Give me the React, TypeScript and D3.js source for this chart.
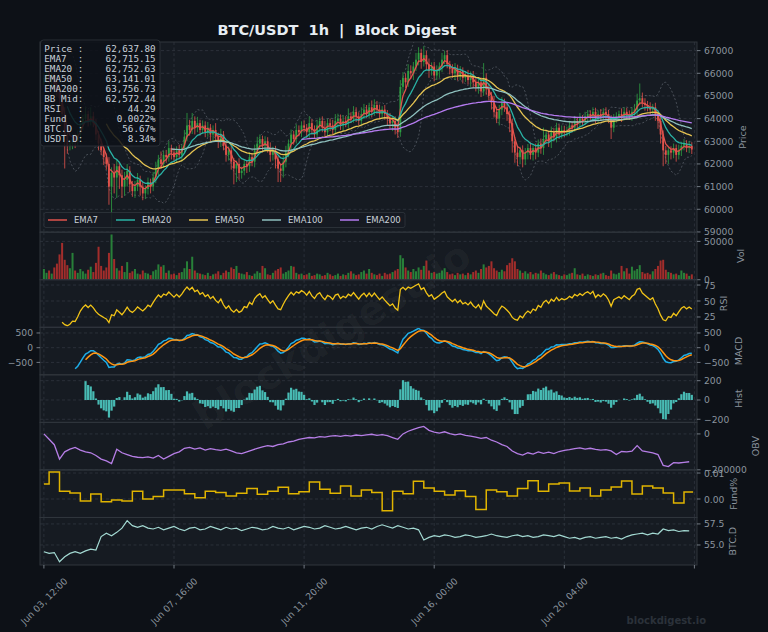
import React, { useEffect } from 'react';
import * as d3 from 'd3';

const START = new Date(2024, 5, 3, 12, 0, 0);
const HOUR = 3600 * 1000;
const STEP_H = 2; // hours per candle

const firstOpen = 65600;
const closes = [
  65800, 66000, 65700, 65900, 65500, 65200, 64900,
  64200, 63300, 62800, 62900, 63100, 63000, 63300,
  63700, 64000, 64200, 63900, 64100,
  63800, 63300, 62900, 62600, 62300, 62000,
  61000, 61600, 61400, 61900, 61500, 61000, 61300, 61700,
  61100, 60800, 61000, 61300, 61000, 60700, 60900, 61200, 61000,
  61400, 61800, 62200, 62000, 62400, 62300, 62700,
  62500, 62300, 62600, 62400, 62700,
  63200, 63700, 63500, 63900, 63600, 63800, 63500,
  63700, 63400, 63600, 63300, 63500, 63200,
  63000, 63300, 62800, 62400, 62600, 62100, 61800, 62000, 61600,
  61700, 62000, 61900, 62300, 62100,
  62600, 62900, 63100, 62800, 63000, 62700, 62400, 62600,
  62200, 61800, 61700, 62100,
  62500, 62900, 63300, 63100, 63500, 63400, 63700, 63600,
  63400, 63800, 63500, 63300, 63700, 63900, 63600, 63400, 63800, 63700, 63500, 63900, 64000, 63700, 63900,
  63800, 64100, 64000, 64300, 64100, 63900, 64200, 64400, 64200,
  64500, 64300, 64600, 64400, 64200, 64400,
  64200, 64000, 63800, 63900, 63600, 63400,
  65400, 65800, 65600, 66100, 66000,
  66300, 66600, 66900, 66500, 66800,
  66400, 66100, 66300, 65900, 66100,
  66300, 66600, 66800, 66400, 66200,
  66000, 66200, 65900, 66100, 65800, 65900, 65700, 65900, 65600,
  65400, 65600, 65200, 65800, 65300, 65000, 64700,
  64300, 64000, 64400, 64700, 64500,
  64200, 63800, 63000, 62500,
  62300, 62600, 62200, 62500, 62700,
  62400, 62700, 62500, 62900, 62700, 63100,
  63300, 63000, 63400, 63200, 63600, 63300, 63500, 63400,
  63500, 63700, 63600, 63900, 63800, 64000, 63900, 64100,
  64200, 64100, 64300, 64000, 64200, 64100, 64300, 64200,
  64000, 63600, 64000, 64100,
  64200, 64100, 64300, 64200, 64100, 64300,
  64400, 64800, 64900,
  64700, 64600, 64500, 64400, 64500,
  64200, 63900, 63300, 62600,
  62400, 62600, 62500, 62700, 62400, 62600,
  62800, 62900, 62700, 62800, 62637.8,
];

const wickUp = [
  200, 150, 250, 180, 120, 160, 220, 150, 300, 180,
  150, 200, 250, 180, 220, 160, 300, 150, 400, 200,
  180, 150, 220, 120, 160, 300, 250, 400, 300, 200,
  250, 350, 300, 200, 150, 250, 300, 180, 220, 160,
  200, 150, 250, 300, 200, 350, 180, 220, 300, 150,
  200, 180, 250, 160, 300, 550, 250, 350, 200, 280,
  150, 220, 180, 250, 160, 200, 300, 180, 250, 150,
  200, 180, 220, 160, 150, 250, 180, 200, 150, 220,
  180, 250, 300, 200, 150, 220, 180, 250, 160, 200,
  150, 200, 250, 300, 180, 220, 160, 250, 200, 180,
  220, 160, 300, 180, 200, 250, 150, 200, 300, 180,
  200, 250, 300, 220, 180, 250, 200, 350, 180, 250,
  200, 180, 300, 250, 200, 200, 300, 250, 180, 220,
  150, 200, 180, 250, 160, 200, 180, 300, 250, 200,
  300, 250, 200, 300, 250, 180, 400, 200, 250, 180,
  200, 250, 180, 300, 200, 220, 150, 200, 250, 180,
  220, 160, 200, 250, 180, 200, 250, 180, 220, 650,
  200, 250, 180, 300, 220, 200, 250, 180, 200, 150,
  200, 180, 250, 160, 220, 200, 180, 250, 150, 200,
  180, 220, 500, 200, 160, 250, 180, 220, 150, 200,
  180, 150, 200, 160, 220, 180, 250, 150, 200, 180,
  160, 200, 180, 150, 220, 160, 200, 180, 150, 200,
  180, 150, 250, 200, 180, 160, 200, 250, 300, 650,
  250, 200, 180, 220, 150, 200, 160, 250, 180, 200,
  150, 180, 200, 160, 250, 180, 200, 150, 220, 160,
];

const wickDn = [
  150, 200, 180, 250, 200, 220, 300, 250, 1500, 350,
  200, 250, 300, 180, 200, 220, 160, 250, 200, 180,
  250, 300, 200, 350, 250, 800, 1800, 700, 900, 600,
  500, 400, 300, 350, 250, 300, 200, 400, 300, 250,
  250, 300, 200, 250, 300, 200, 180, 250, 200, 300,
  200, 250, 180, 300, 220, 200, 250, 180, 300, 200,
  250, 180, 220, 200, 300, 250, 200, 300, 250, 200,
  300, 250, 350, 700, 600, 300, 250, 200, 300, 250,
  200, 250, 180, 220, 300, 250, 200, 300, 250, 400,
  600, 500, 300, 250, 200, 300, 250, 200, 180, 220,
  200, 250, 300, 200, 180, 250, 300, 200, 220, 180,
  250, 200, 180, 300, 200, 250, 180, 220, 200, 180,
  250, 200, 180, 220, 160, 200, 250, 180, 200, 220,
  200, 250, 300, 250, 350, 300, 250, 200, 300, 250,
  200, 250, 300, 200, 250, 300, 200, 250, 300, 200,
  250, 200, 300, 250, 200, 180, 250, 200, 300, 220,
  200, 250, 180, 200, 300, 250, 200, 300, 250, 200,
  250, 200, 300, 250, 200, 300, 250, 200, 300, 400,
  500, 450, 400, 300, 350, 250, 300, 200, 250, 300,
  200, 250, 300, 200, 250, 300, 200, 250, 200, 180,
  220, 180, 250, 200, 180, 220, 160, 200, 180, 250,
  200, 180, 220, 160, 200, 180, 250, 200, 500, 200,
  180, 200, 250, 180, 220, 160, 200, 180, 250, 200,
  200, 250, 180, 220, 200, 300, 350, 400, 700, 400,
  400, 300, 250, 300, 200, 250, 200, 180, 220, 200,
];

const volumes = [
  14000, 9000, 12000, 8000, 16000, 21000, 33000, 48000, 26000, 19000,
  15000, 35000, 12000, 9000, 14000, 11000, 8000, 13000, 17000, 10000,
  22000, 43000, 18000, 12000, 16000, 35000, 59000, 27000, 15000, 12000,
  18000, 10000, 23000, 9000, 11000, 14000, 8000, 7000, 12000, 9000,
  8000, 6000, 11000, 13000, 20000, 17000, 19000, 9000, 12000, 7000,
  8000, 6000, 9000, 10000, 15000, 24000, 14000, 30000, 12000, 9000,
  8000, 7000, 6000, 9000, 5000, 7000, 8000, 11000, 6000, 9000,
  12000, 10000, 16000, 14000, 18000, 9000, 8000, 7000, 10000, 6000,
  5000, 8000, 11000, 9000, 18000, 15000, 7000, 6000, 9000, 12000,
  14000, 16000, 8000, 10000, 12000, 18000, 17000, 9000, 7000, 8000,
  6000, 7000, 9000, 5000, 6000, 8000, 7000, 5000, 6000, 9000,
  7000, 5000, 6000, 8000, 5000, 7000, 6000, 9000, 11000, 8000,
  6000, 7000, 10000, 12000, 8000, 14000, 9000, 7000, 6000, 8000,
  5000, 9000, 7000, 8000, 10000, 12000, 14000, 32000, 28000, 16000,
  12000, 10000, 14000, 11000, 16000, 13000, 18000, 25000, 12000, 9000,
  10000, 8000, 9000, 12000, 15000, 10000, 7000, 8000, 6000, 9000,
  7000, 8000, 6000, 9000, 7000, 10000, 12000, 9000, 14000, 20000,
  16000, 18000, 24000, 15000, 12000, 10000, 13000, 11000, 19000, 22000,
  28000, 24000, 14000, 12000, 9000, 11000, 8000, 10000, 7000, 9000,
  8000, 12000, 9000, 7000, 6000, 8000, 10000, 7000, 6000, 5000,
  7000, 6000, 8000, 9000, 15000, 7000, 6000, 8000, 5000, 7000,
  6000, 5000, 7000, 6000, 8000, 9000, 6000, 5000, 12000, 8000,
  7000, 9000, 18000, 11000, 15000, 8000, 17000, 12000, 14000, 19000,
  10000, 8000, 9000, 7000, 11000, 14000, 18000, 25000, 26000, 13000,
  10000, 9000, 7000, 8000, 6000, 12000, 9000, 8000, 5000, 7000,
];

// OBV sampled every 4 hours
const obv4h = [
  0, -30000, -60000, -140000, -100000, -85000, -75000, -90000, -100000, -105000,
  -120000, -140000, -150000, -165000, -85000, -105000, -115000, -125000, -130000, -132000,
  -128000, -135000, -120000, -140000, -125000, -110000, -100000, -80000, -75000, -85000,
  -78000, -90000, -82000, -88000, -92000, -85000, -95000, -105000, -110000, -100000,
  -90000, -80000, -72000, -65000, -70000, -60000, -55000, -45000, -40000, -30000,
  -25000, -20000, -22000, -15000, -18000, -12000, -10000, -14000, -8000, -12000,
  -6000, -10000, -5000, -2000, -8000, -4000, -10000, -20000, -30000, 0,
  15000, 25000, 35000, 42000, 20000, 10000, 5000, 12000, 2000, -5000,
  0, -8000, -12000, -18000, -25000, -20000, -35000, -45000, -60000, -70000,
  -95000, -110000, -118000, -105000, -112000, -100000, -108000, -102000, -110000, -98000,
  -92000, -88000, -82000, -78000, -85000, -80000, -86000, -90000, -88000, -95000,
  -115000, -98000, -100000, -96000, -65000, -95000, -100000, -105000, -115000, -175000,
  -182000, -160000, -162000, -158000, -155000,
];

// BTC dominance sampled every 4 hours
const btcDom4h = [
  54.2, 54.0, 54.1, 53.0, 53.6, 54.0, 54.2, 54.0, 54.3, 54.5,
  54.4, 56.0, 56.4, 56.1, 56.5, 57.0, 57.9, 57.3, 57.1, 57.3,
  57.0, 56.9, 57.1, 56.8, 57.0, 57.2, 56.9, 56.7, 57.0, 57.1,
  56.8, 56.9, 57.2, 57.0, 56.8, 57.1, 56.9, 57.0, 56.7, 56.9,
  57.1, 57.0, 56.8, 56.9, 57.2, 57.0, 56.9, 57.1, 56.8, 57.0,
  57.2, 57.1, 56.9, 57.0, 57.3, 57.1, 56.9, 57.0, 57.2, 57.0,
  56.8, 57.0, 57.1, 56.9, 57.2, 57.4, 57.2, 57.0, 57.3, 57.1,
  56.9, 57.0, 56.8, 55.6, 55.9, 56.1, 56.0, 56.2, 56.1, 55.9,
  56.0, 56.2, 56.1, 55.9, 56.0, 56.1, 56.3, 56.1, 56.0, 55.9,
  56.1, 56.2, 56.0, 56.1, 55.9, 56.0, 56.2, 56.1, 56.0, 56.2,
  56.0, 55.8, 55.9, 55.7, 55.9, 56.0, 55.8, 55.9, 56.0, 55.8,
  55.9, 55.7, 56.0, 56.2, 56.3, 56.4, 56.2, 56.4, 56.3, 56.9,
  56.7, 56.8, 56.6, 56.7, 56.67,
];

// funding rate (%), settles every 8 hours
const funding8h = [
  0.0058, 0.0104, 0.0030, 0.0023, -0.0008, 0.0019, -0.0011, -0.0004, -0.0008, 0.0030,
  0.0000, 0.0010, 0.0035, 0.0035, 0.0020, 0.0005, 0.0030, 0.0025, 0.0012, 0.0022,
  0.0040, 0.0018, 0.0030, 0.0045, 0.0020, 0.0028, 0.0065, 0.0038, 0.0022, 0.0050,
  0.0012, 0.0035, 0.0025, -0.0045, 0.0030, 0.0020, 0.0068, 0.0042, 0.0030, 0.0015,
  0.0032, 0.0010, -0.0040, 0.0035, 0.0028, 0.0012, 0.0040, 0.0070, 0.0030, 0.0058,
  0.0062, 0.0031, 0.0042, 0.0012, 0.0035, 0.0046, 0.0069, 0.0019, 0.0050, 0.0042,
  0.0023, -0.0015, 0.0027,
];

const xTickHours = [0, 100, 200, 300, 400, 500];
const xTickLabels = ['Jun 03, 12:00', 'Jun 07, 16:00', 'Jun 11, 20:00', 'Jun 16, 00:00', 'Jun 20, 04:00', ''];

const emaPeriods = [7, 20, 50, 100, 200];
const emaNames = ['EMA7', 'EMA20', 'EMA50', 'EMA100', 'EMA200'];
const emaColors = ['#e0534d', '#2ab3a6', '#e6c452', '#8fc1bf', '#b57bf0'];

const infoLabels = ['Price :', 'EMA7  :', 'EMA20 :', 'EMA50 :', 'EMA200:', 'BB Mid:', 'RSI   :', 'Fund  :', 'BTC.D :', 'USDT.D:'];
const infoValues = ['62,637.80', '62,715.15', '62,752.63', '63,141.01', '63,756.73', '62,572.44', '44.29', '0.0022%', '56.67%', '8.34%'];

// ---- indicator helpers (periods given in hours, data is 2h candles) ----
type Num = number | null;

function ema(vals: number[], n: number, first = 0): Num[] {
  const alpha = 1 - Math.pow(1 - 2 / (n + 1), STEP_H);
  const minP = first + Math.floor((n - 1) / STEP_H);
  const out: Num[] = vals.map(() => null);
  let e = 0;
  for (let i = first; i < vals.length; i++) {
    e = i === first ? vals[i] : alpha * vals[i] + (1 - alpha) * e;
    if (i >= minP) out[i] = e;
  }
  return out;
}

// Wilder RSI: seeded over `seed` candles, smoothed over `n`
function rsi(vals: number[], seed: number, n: number): Num[] {
  const out: Num[] = vals.map(() => null);
  let ag = 0, al = 0;
  for (let i = 1; i < vals.length; i++) {
    const ch = vals[i] - vals[i - 1];
    const g = Math.max(ch, 0), l = Math.max(-ch, 0);
    if (i <= seed) {
      ag += g / seed;
      al += l / seed;
    } else {
      ag = (ag * (n - 1) + g) / n;
      al = (al * (n - 1) + l) / n;
    }
    if (i >= seed) out[i] = al === 0 ? 100 : 100 - 100 / (1 + ag / al);
  }
  return out;
}

function bollinger(vals: number[], n: number, k: number) {
  const up: Num[] = vals.map(() => null);
  const lo: Num[] = vals.map(() => null);
  for (let i = n - 1; i < vals.length; i++) {
    const w = vals.slice(i - n + 1, i + 1);
    const m = d3.mean(w) as number;
    const s = d3.deviation(w) as number;
    up[i] = m + k * s;
    lo[i] = m - k * s;
  }
  return { up, lo };
}

const App: React.FC = () => {
  useEffect(() => {
    document.body.style.margin = '0';
    document.body.style.background = '#0d1117';
  }, []);

  const W = 768, H = 632;
  const left = 40, right = 697;
  const top = 42, bottom = 565;
  const weights = [4, 1, 1, 1, 1, 1, 1, 1];
  const unit = (bottom - top) / d3.sum(weights);
  const bounds: [number, number][] = [];
  let acc = top;
  weights.forEach((w) => {
    bounds.push([acc, acc + w * unit]);
    acc += w * unit;
  });

  const x = d3.scaleTime()
    .domain([new Date(START.getTime() - 3 * HOUR), new Date(START.getTime() + 502 * HOUR)])
    .range([left, right]);
  const xh = (h: number) => x(new Date(START.getTime() + h * HOUR));
  const xi = (i: number) => xh(i * STEP_H);

  const opens = closes.map((c, i) => (i === 0 ? firstOpen : closes[i - 1]));
  const highs = closes.map((c, i) => Math.max(c, opens[i]) + wickUp[i]);
  const lows = closes.map((c, i) => Math.min(c, opens[i]) - wickDn[i]);

  const emas = emaPeriods.map((p) => ema(closes, p));
  const bb = bollinger(closes, 20 / STEP_H, 2);
  const rsiVals = rsi(closes, 14 / STEP_H, 10);
  const e12 = ema(closes, 12);
  const e26 = ema(closes, 26);
  const macdStart = Math.floor(25 / STEP_H);
  const macd: Num[] = closes.map((_, i) => (i >= macdStart ? (e12[i] as number) - (e26[i] as number) : null));
  const signal = ema(macd.map((v) => v ?? 0), 9, macdStart);
  const hist: Num[] = macd.map((v, i) => (v != null && signal[i] != null ? v - (signal[i] as number) : null));

  const fmtInt = (v: number) => d3.format('d')(v).replace('-', '\u2212');
  const panels = [
    { key: 'price', dom: [58990, 67380], ticks: d3.range(59000, 67001, 1000), fmt: fmtInt, label: 'Price', lx: 742 },
    { key: 'vol', dom: [0, 62000], ticks: [0, 50000], fmt: fmtInt, label: 'Vol', lx: 740 },
    { key: 'rsi', dom: [8.9, 83.3], ticks: [25, 50, 75], fmt: fmtInt, label: 'RSI', lx: 723 },
    { key: 'macd', dom: [-922, 694], ticks: [-500, 0, 500], fmt: fmtInt, label: 'MACD', lx: 738 },
    { key: 'hist', dom: [-232, 261], ticks: [-200, 0, 200], fmt: fmtInt, label: 'Hist', lx: 738 },
    { key: 'obv', dom: [-200500, 64400], ticks: [-200000, 0], fmt: fmtInt, label: 'OBV', lx: 755 },
    { key: 'fund', dom: [-0.0071, 0.0112], ticks: [0, 0.01], fmt: d3.format('.2f'), label: 'Fund%', lx: 733 },
    { key: 'btcd', dom: [52.62, 58.27], ticks: [55, 57.5], fmt: d3.format('.1f'), label: 'BTC.D', lx: 732 },
  ].map((p, k) => ({
    ...p,
    y0: bounds[k][0],
    y1: bounds[k][1],
    y: d3.scaleLinear().domain(p.dom).range([bounds[k][1], bounds[k][0]]),
  }));
  const P: Record<string, (typeof panels)[number]> = {};
  panels.forEach((p) => (P[p.key] = p));

  const lineI = (yS: d3.ScaleLinear<number, number>) =>
    d3.line<Num>()
      .defined((d) => d != null)
      .x((_, i) => xi(i))
      .y((d) => yS(d as number));

  const yP = P.price.y;
  const gridColor = '#333a44';
  const tickColor = '#8b949e';
  const up = '#2ea043';
  const down = '#e5534b';

  // funding step points
  const fundPts: [number, number][] = funding8h.map((v, k) => [k === 0 ? 0 : 4 + 8 * (k - 1), v]);
  fundPts.push([499, funding8h[funding8h.length - 1]]);
  const fundLine = d3.line<[number, number]>()
    .x((d) => xh(d[0]))
    .y((d) => P.fund.y(d[1]))
    .curve(d3.curveStepAfter);

  const obvLine = d3.line<number>().x((_, j) => xh(j * 4)).y((d) => P.obv.y(d));
  const btcLine = d3.line<number>().x((_, j) => xh(j * 4)).y((d) => P.btcd.y(d));

  const legendX = [48, 116, 189, 262, 340];
  const monoW = 5.57;

  return (
    <svg width={W} height={H} style={{ position: 'absolute', left: 0, top: 0, display: 'block' }} fontFamily="'DejaVu Sans', sans-serif">
      <rect width={W} height={H} fill="#0d1117" />
      <defs>
        {panels.map((p) => (
          <clipPath id={`clip-${p.key}`} key={p.key}>
            <rect x={left} y={p.y0} width={right - left} height={p.y1 - p.y0} />
          </clipPath>
        ))}
      </defs>

      {/* panel backgrounds + grids */}
      {panels.map((p) => (
        <g key={`bg-${p.key}`}>
          <rect x={left} y={p.y0} width={right - left} height={p.y1 - p.y0} fill="#161b22" />
          {p.ticks.map((t) => (
            <line key={t} x1={left} x2={right} y1={p.y(t)} y2={p.y(t)} stroke={gridColor} strokeWidth={0.7} strokeDasharray="3,2.5" />
          ))}
          {xTickHours.map((h) => (
            <line key={h} x1={xh(h)} x2={xh(h)} y1={p.y0} y2={p.y1} stroke={gridColor} strokeWidth={0.7} strokeDasharray="3,2.5" />
          ))}
        </g>
      ))}

      {/* watermark */}
      <text transform="translate(332,335) rotate(-32)" textAnchor="middle" dominantBaseline="central" fontSize={40}
        fontWeight="bold" fill="#ffffff" fillOpacity={0.04}>
        blockdigest.io
      </text>

      {/* price panel */}
      <g clipPath="url(#clip-price)">
        {[bb.up, bb.lo].map((s, k) => (
          <path key={k} d={lineI(yP)(s) || ''} fill="none" stroke="#8b949e" strokeOpacity={0.55} strokeWidth={0.8} strokeDasharray="2,2" />
        ))}
        {closes.map((c, i) => {
          const o = opens[i];
          const col = c >= o ? up : down;
          const cx = xi(i);
          const yt = yP(Math.max(o, c));
          const yb = yP(Math.min(o, c));
          return (
            <g key={i}>
              <line x1={cx} x2={cx} y1={yP(highs[i])} y2={yP(lows[i])} stroke={col} strokeWidth={0.8} />
              <rect x={cx - 0.9} y={yt} width={1.8} height={Math.max(yb - yt, 0.6)} fill={col} />
            </g>
          );
        })}
        {emas.map((s, k) => (
          <path key={k} d={lineI(yP)(s) || ''} fill="none" stroke={emaColors[k]} strokeWidth={1.3} />
        ))}
      </g>

      {/* volume */}
      <g clipPath="url(#clip-vol)">
        {volumes.map((v, i) => (
          <rect key={i} x={xi(i) - 1} width={2} y={P.vol.y(v)} height={P.vol.y(0) - P.vol.y(v)}
            fill={closes[i] >= opens[i] ? '#2a8c3c' : '#b3302c'} fillOpacity={0.9} />
        ))}
      </g>

      {/* RSI */}
      <g clipPath="url(#clip-rsi)">
        <path d={lineI(P.rsi.y)(rsiVals) || ''} fill="none" stroke="#f2c417" strokeWidth={1.3} />
      </g>

      {/* MACD */}
      <g clipPath="url(#clip-macd)">
        <path d={lineI(P.macd.y)(macd) || ''} fill="none" stroke="#1eaee8" strokeWidth={1.5} />
        <path d={lineI(P.macd.y)(signal) || ''} fill="none" stroke="#ff9410" strokeWidth={1.5} />
      </g>

      {/* Histogram */}
      <g clipPath="url(#clip-hist)">
        {hist.map((v, i) =>
          v == null ? null : (
            <rect key={i} x={xi(i) - 1.1} width={2.2} y={Math.min(P.hist.y(v), P.hist.y(0))}
              height={Math.abs(P.hist.y(v) - P.hist.y(0))} fill="#4ecdc4" fillOpacity={0.9} />
          )
        )}
      </g>

      {/* OBV */}
      <g clipPath="url(#clip-obv)">
        <path d={obvLine(obv4h) || ''} fill="none" stroke="#b67ee6" strokeWidth={1.3} />
      </g>

      {/* Funding */}
      <g clipPath="url(#clip-fund)">
        <path d={fundLine(fundPts) || ''} fill="none" stroke="#e0b400" strokeWidth={1.5} />
      </g>

      {/* BTC dominance */}
      <g clipPath="url(#clip-btcd)">
        <path d={btcLine(btcDom4h) || ''} fill="none" stroke="#a3d9d2" strokeWidth={1.2} />
      </g>

      {/* panel frames and right axes */}
      {panels.map((p) => (
        <g key={`ax-${p.key}`}>
          <rect x={left} y={p.y0} width={right - left} height={p.y1 - p.y0} fill="none" stroke="#30363d" strokeWidth={1} />
          {p.ticks.map((t) => (
            <g key={t}>
              <line x1={right} x2={right + 3.5} y1={p.y(t)} y2={p.y(t)} stroke={tickColor} strokeWidth={0.8} />
              <text x={right + 7} y={p.y(t)} dominantBaseline="central" fontSize={9.2} fill={tickColor}>
                {p.fmt(t)}
              </text>
            </g>
          ))}
          <text transform={`translate(${p.lx},${(p.y0 + p.y1) / 2}) rotate(-90)`} textAnchor="middle" dominantBaseline="central"
            fontSize={9.5} fill={tickColor}>
            {p.label}
          </text>
        </g>
      ))}

      {/* left-side MACD ticks */}
      {P.macd.ticks.map((t) => (
        <g key={`l${t}`}>
          <line x1={left - 3.5} x2={left} y1={P.macd.y(t)} y2={P.macd.y(t)} stroke={tickColor} strokeWidth={0.8} />
          <text x={left - 7} y={P.macd.y(t)} textAnchor="end" dominantBaseline="central" fontSize={9.2} fill={tickColor}>
            {P.macd.fmt(t)}
          </text>
        </g>
      ))}

      {/* x axis */}
      {xTickHours.map((h, k) => (
        <g key={h}>
          <line x1={xh(h)} x2={xh(h)} y1={bottom} y2={bottom + 3.5} stroke={tickColor} strokeWidth={0.8} />
          {xTickLabels[k] && (
            <text transform={`translate(${xh(h)},${bottom + 36}) rotate(-45)`} textAnchor="middle" dominantBaseline="central"
              fontSize={9.2} fill={tickColor}>
              {xTickLabels[k]}
            </text>
          )}
        </g>
      ))}

      {/* legend */}
      <rect x={44} y={212.5} width={361} height={15} rx={2} fill="#161b22" fillOpacity={0.9} stroke="#30363d" strokeWidth={0.8} />
      {emaNames.map((nm, k) => (
        <g key={nm}>
          <line x1={legendX[k]} x2={legendX[k] + 19} y1={220} y2={220} stroke={emaColors[k]} strokeWidth={1.5} />
          <text x={legendX[k] + 26} y={220} dominantBaseline="central" fontSize={8.5} fill="#c9d1d9">
            {nm}
          </text>
        </g>
      ))}

      {/* info box */}
      <rect x={40.5} y={40} width={119.5} height={106} rx={3} fill="#0d1117" fillOpacity={0.85} stroke="#30363d" strokeWidth={0.8} />
      {infoLabels.map((lb, k) => (
        <g key={lb} fontFamily="'DejaVu Sans Mono', monospace" fontSize={9.25} fill="#c9d1d9">
          <text x={44.3} y={51.5 + k * 10.07} style={{ whiteSpace: 'pre' }}>{lb}</text>
          <text x={44.3 + 20 * monoW} y={51.5 + k * 10.07} textAnchor="end">{infoValues[k]}</text>
        </g>
      ))}

      {/* title */}
      <text x={337} y={35} textAnchor="middle" fontSize={14.5} fontWeight="bold" fill="#e6edf3" style={{ whiteSpace: 'pre' }}>
        {'BTC/USDT  1h  |  Block Digest'}
      </text>

      <text x={706} y={624} textAnchor="end" fontSize={10} fontWeight="bold" fill="#2b313a">
        blockdigest.io
      </text>
    </svg>
  );
};

export default App;
